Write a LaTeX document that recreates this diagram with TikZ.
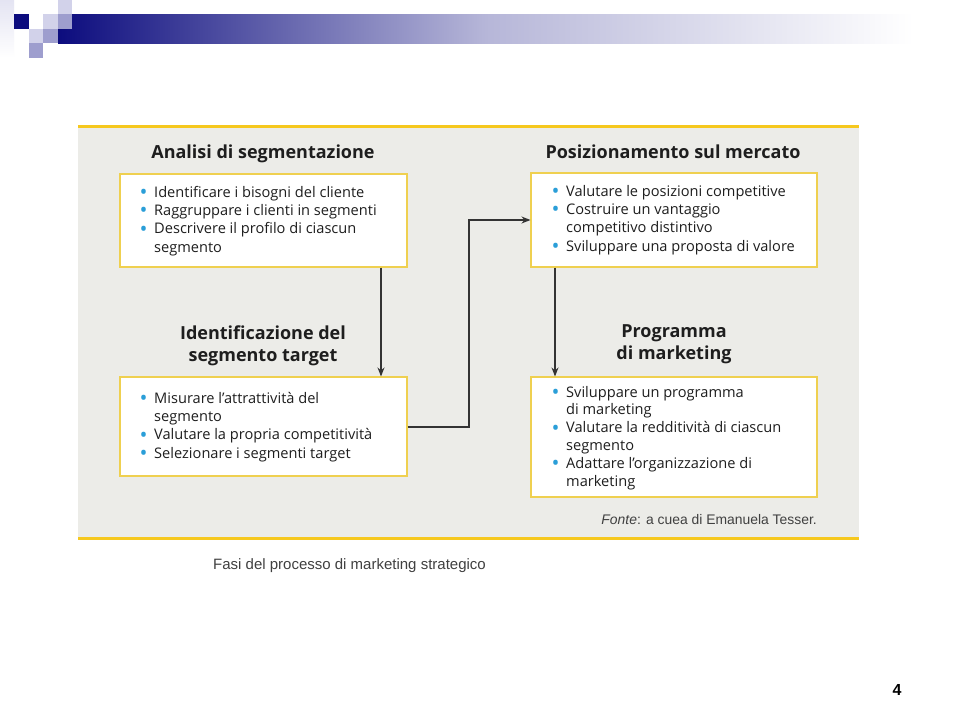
\documentclass[tikz,border=0pt]{standalone}
\usepackage{fontspec}
\usepackage{graphicx}
\setmainfont{Liberation Sans}
\newfontfamily\frut{Open Sans}
\usetikzlibrary{arrows.meta}
\definecolor{navy}{HTML}{0C0C7E}
\definecolor{lav}{HTML}{D2D2EA}
\definecolor{lavm}{HTML}{9E9ECE}
\definecolor{panel}{HTML}{ECECE8}
\definecolor{ruley}{HTML}{F6C81E}
\definecolor{boxy}{HTML}{EFD050}
\definecolor{bulblue}{HTML}{2A9ED8}
\definecolor{txt}{HTML}{1E1E1E}
\definecolor{arrc}{HTML}{333333}
\newcommand{\bul}{\makebox[13pt][l]{\hspace*{-1.5pt}\smash{\raisebox{-2.4pt}{\scalebox{1.45}{\textcolor{bulblue}{\textbullet}}}}}}
\newcommand{\ind}{\hspace*{13pt}}
\tikzset{
  x=1pt, y=-1pt,
  listbox/.style={draw=boxy, line width=1.1pt, fill=white, inner sep=0pt},
  ttl/.style={font=\frut\bfseries\fontsize{18}{22}\selectfont, text=txt, align=center, inner sep=0pt},
  lst/.style={font=\frut\fontsize{14.6}{18.3}\selectfont, text=txt, align=left, inner sep=0pt, anchor=base west},
  arr/.style={draw=arrc, line width=1.1pt, -{Stealth[length=9pt,width=7pt]}}
}
\begin{document}
\begin{tikzpicture}
\useasboundingbox (0,0) rectangle (960,720);
\fill[white] (0,0) rectangle (960,720);
% header decoration
\shade[left color=lav!60, right color=white, shading angle=0] (0,0) rectangle (14,58);
\shade[left color=navy, right color=white, middle color=navy!30] (58,14) rectangle (913,43);
\fill[navy] (14,14) rectangle (29,29);
\fill[lav] (43,14) rectangle (58,29);
\fill[lav] (58,0) rectangle (72,14);
\fill[lavm] (58,14) rectangle (72,29);
\fill[lav] (29,29) rectangle (43,43);
\fill[lavm] (43,29) rectangle (58,43);
\fill[lavm] (29,43) rectangle (43,58);
% panel
\fill[panel] (78,125) rectangle (859,539);
\fill[ruley] (78,124.5) rectangle (859,128);
\fill[ruley] (78,536.5) rectangle (859,540);
% boxes
\node[listbox, minimum width=287pt, minimum height=93pt] (b1) at (263.5,220.5) {};
\node[listbox, minimum width=286pt, minimum height=94pt] (b2) at (674,220) {};
\node[listbox, minimum width=287pt, minimum height=99pt] (b3) at (263.5,426.5) {};
\node[listbox, minimum width=286pt, minimum height=120pt] (b4) at (674,437) {};
% titles (base anchor = last line)
\node[ttl, anchor=base] (h1) at (263,158) {Analisi di segmentazione};
\node[ttl, anchor=base] (h2) at (673,158) {Posizionamento sul mercato};
\node[ttl, anchor=base] (h3) at (263,361) {Identificazione del\\segmento target};
\node[ttl, anchor=base] (h4) at (674,359) {Programma\\di marketing};
% lists (base anchor = last line)
\node[lst] (l1) at (141,252) {\bul Identificare i bisogni del cliente\\ \bul Raggruppare i clienti in segmenti\\ \bul Descrivere il profilo di ciascun\\ \ind segmento};
\node[lst] (l2) at (553,251) {\bul Valutare le posizioni competitive\\ \bul Costruire un vantaggio\\ \ind competitivo distintivo\\ \bul Sviluppare una proposta di valore};
\node[lst] (l3) at (141,458) {\bul Misurare l’attrattività del\\ \ind segmento\\ \bul Valutare la propria competitività\\ \bul Selezionare i segmenti target};
\node[lst, font=\frut\fontsize{14.6}{17.8}\selectfont] (l4) at (553,486) {\bul Sviluppare un programma\\ \ind di marketing\\ \bul Valutare la redditività di ciascun\\ \ind segmento\\ \bul Adattare l’organizzazione di\\ \ind marketing};
% source and caption
\node[anchor=base east, inner sep=0pt, font=\fontsize{13.9}{16}\selectfont, text=black!75] (src) at (817,524) {\textit{Fonte}: a cuea di Emanuela Tesser.};
\node[anchor=base west, inner sep=0pt, font=\fontsize{15}{17}\selectfont, text=black!75] (cap) at (213,569) {Fasi del processo di marketing strategico};
\node[anchor=base, inner sep=0pt, font=\bfseries\fontsize{16}{18}\selectfont] (pg) at (897,695) {4};
% arrows
\coordinate (ax1) at (381,0);
\coordinate (ax3) at (555,0);
\coordinate (ay2) at (0,427);
\coordinate (ay2b) at (0,220);
\coordinate (ax2) at (469,0);
\draw[arr] (b1.south -| ax1) -- (b3.north -| ax1);
\draw[arr] (b2.south -| ax3) -- (b4.north -| ax3);
\draw[arr] (b3.east |- ay2) -| (ax2 |- ay2b) -- (b2.west |- ay2b);
\end{tikzpicture}
\end{document}
